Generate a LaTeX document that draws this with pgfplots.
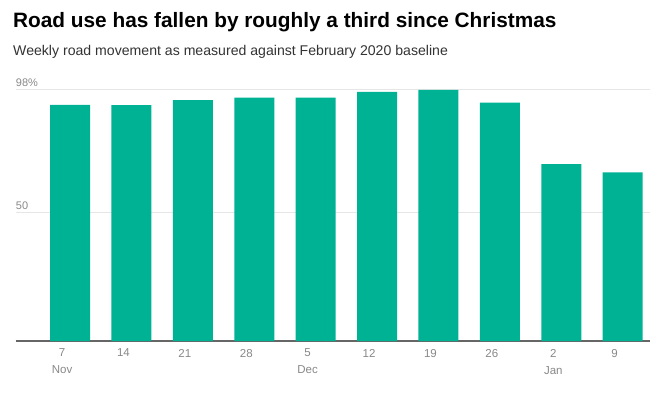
\documentclass[border=0pt]{standalone}
\usepackage{pgfplots}
\pgfplotsset{compat=1.18}
\usepackage{fontspec}
\setmainfont{Liberation Sans}
\definecolor{barc}{HTML}{00B294}
\definecolor{tickc}{HTML}{888888}
\definecolor{gridc}{HTML}{E6E6E6}
\definecolor{subc}{HTML}{333333}
\begin{document}
\begin{tikzpicture}
\pgfplotstableread{
x y
0 92.1
1 92.0
2 94.0
3 95.0
4 95.0
5 97.2
6 98.0
7 93.0
8 69.0
9 65.8
}\roaddata
\begin{axis}[
  at={(0,0)}, anchor=south west,
  scale only axis,
  width=634bp, height=256.25bp,
  xmin=-0.885, xmax=9.44,
  ymin=0, ymax=100,
  axis lines*=left,
  y axis line style={draw=none},
  x axis line style={draw=black!60, line width=1.2bp},
  xtick=data,
  xticklabels={{7\\Nov},14,21,28,{5\\Dec},12,19,26,{2\\Jan},9},
  xticklabel style={align=center, font=\fontsize{11.5bp}{17bp}\selectfont, text=tickc, anchor=north, xshift=-8bp, yshift=-4.5bp},
  ytick={50,98},
  yticklabels={50,98\%},
  yticklabel style={font=\fontsize{11bp}{13bp}\selectfont, text=tickc, anchor=south west, inner sep=0pt, xshift=0bp, yshift=3bp},
  major tick length=0pt,
  ymajorgrids,
  grid style={gridc, line width=0.8bp},
  tick style={draw=none},
  clip=false,
]
\addplot[ybar, bar width=40bp, fill=barc, draw=none] table[x=x,y=y]{\roaddata};
\end{axis}
\node[anchor=base west, inner sep=0pt, font=\fontsize{20.8bp}{24bp}\selectfont\bfseries] at (-2.7bp,313bp) {Road use has fallen by roughly a third since Christmas};
\node[anchor=base west, inner sep=0pt, font=\fontsize{14.1bp}{17bp}\selectfont, text=subc] at (-2.7bp,285bp) {Weekly road movement as measured against February 2020 baseline};
\path[use as bounding box] (-15.7bp,-54bp) rectangle (644.3bp,341bp);
\end{tikzpicture}
\end{document}
